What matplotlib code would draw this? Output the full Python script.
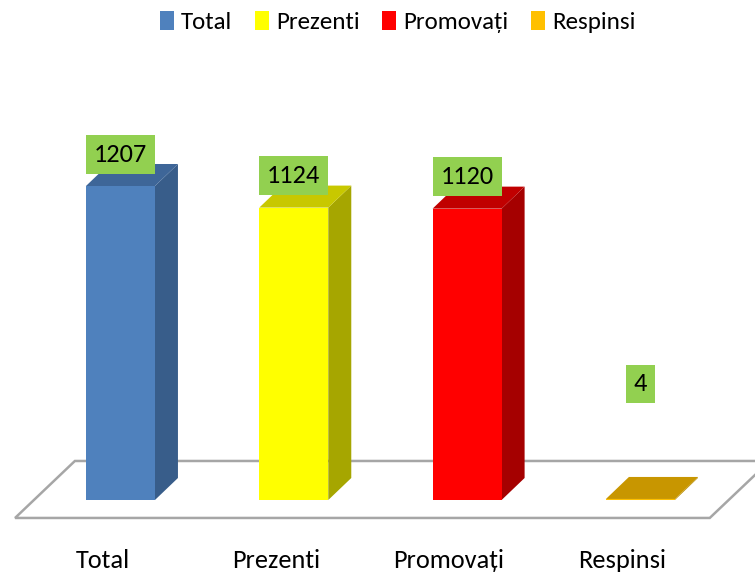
import matplotlib
matplotlib.use("Agg")
import matplotlib.pyplot as plt
from matplotlib.patches import Polygon, Patch

categories = ["Total", "Prezenti", "Promovați", "Respinsi"]
values = [1207, 1124, 1120, 4]
front_colors = ["#4F81BD", "#FFFF00", "#FF0000", "#FFC000"]
side_colors = ["#385D8A", "#A6A600", "#A50000", "#B58A00"]
top_colors = ["#3E6698", "#C8C800", "#C00000", "#C89600"]
label_texts = ["1207", "1124", "1120", "4"]

plt.rcParams['font.family'] = ['Carlito', 'DejaVu Sans']

fig = plt.figure(figsize=(7.55, 5.73), dpi=100)
ax = fig.add_axes([0, 0, 1, 1])
ax.set_xlim(-0.695, 3.661)
ax.set_ylim(-280.6, 1922)
ax.axis('off')

bw = 0.398
dx = 0.1327
dy = 84.6
x = list(range(len(categories)))

# floor
floor = Polygon([(-0.608, -69), (3.40, -69), (3.746, 150), (-0.263, 150)],
                closed=True, facecolor='white', edgecolor='#A6A6A6', lw=1.8, zorder=1)
ax.add_patch(floor)

for i, v in enumerate(values):
    xl, xr = i - bw / 2, i + bw / 2
    side = Polygon([(xr, 0), (xr + dx, dy), (xr + dx, v + dy), (xr, v)],
                   closed=True, facecolor=side_colors[i], edgecolor='none', zorder=2)
    top = Polygon([(xl, v), (xl + dx, v + dy), (xr + dx, v + dy), (xr, v)],
                  closed=True, facecolor=top_colors[i], edgecolor='none', zorder=2)
    ax.add_patch(side)
    ax.add_patch(top)
ax.bar(x, values, width=bw, color=front_colors, edgecolor='none', zorder=3)

for i, v in enumerate(values):
    ly = v + 122 if v > 100 else 446
    ax.text(i, ly, label_texts[i], ha='center', va='center', fontsize=19, color='black',
            zorder=5, bbox=dict(boxstyle='square,pad=0.3', facecolor='#92D050', edgecolor='none'))

for i, c in enumerate(categories):
    ax.text(i - 0.104, 0.009, c, ha='center', va='baseline', fontsize=19,
            transform=ax.get_xaxis_transform(), color='black')

handles = [Patch(facecolor=front_colors[i], edgecolor='none', label=categories[i]) for i in range(4)]
fig.legend(handles=handles, loc='upper center', bbox_to_anchor=(0.527, 1.02), ncol=4,
           frameon=False, fontsize=18, handlelength=0.55, handleheight=0.8,
           handletextpad=0.3, columnspacing=0.9)

fig.savefig("out.png", dpi=100)
